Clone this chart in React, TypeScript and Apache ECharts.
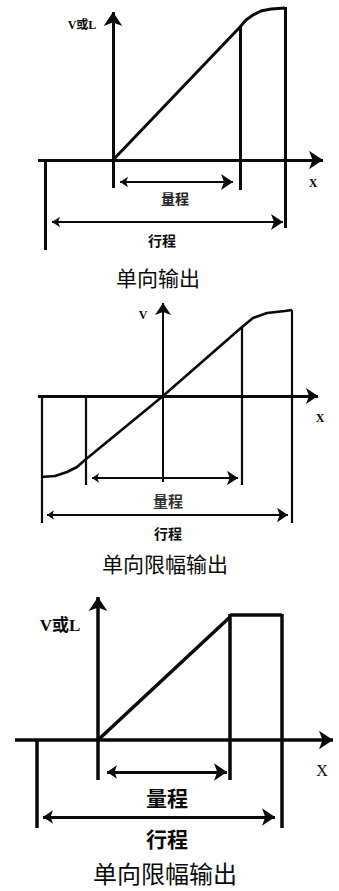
import React, { useEffect, useRef } from "react";
import * as echarts from "echarts";

// ---- Data (diagram units, origin = axis intersection, y up) ----
// Panel 1: 单向输出
const p1Axes = [
  [[-75, 0], [210, 0]],
  [[0, -28], [0, 148]],
];
const p1Curve = [[0, 0], [127, 133], [133, 140], [140, 145], [148, 149], [158, 151], [172, 152]];
const p1Verticals = [
  [[172, 153], [172, -68]],
  [[127, 133], [127, -30]],
  [[-68, 0], [-68, -90]],
];
const p1Dims = [
  [[7, -22], [120, -22]],
  [[-61, -62], [170, -62]],
];

// Panel 2: 单向限幅输出 (bipolar)
const p2Axes = [
  [[-125, 0], [155, 0]],
  [[0, -86], [0, 93]],
];
const p2Curve = [[-122, -81], [-108, -80], [-96, -76], [-86, -71], [-78, -64], [0, 0], [79, 69], [90, 78], [104, 83], [122, 85], [129, 86]];
const p2Verticals = [
  [[129, 86], [129, -127]],
  [[79, 69], [79, -89]],
  [[-77, 0], [-77, -89]],
  [[-121, 0], [-121, -127]],
];
const p2Dims = [
  [[-71, -82], [75, -82]],
  [[-116, -119], [125, -119]],
];

// Panel 3: 单向限幅输出 (hard limit)
const p3Axes = [
  [[-83, 0], [235, 0]],
  [[0, -40], [0, 143]],
];
const p3Curve = [[0, 0], [132, 123]];
const p3Top = [[132, 125], [184, 125]];
const p3Verticals = [
  [[132, 126], [132, -40]],
  [[184, 126], [184, -88]],
  [[-61, 0], [-61, -88]],
];
const p3Dims = [
  [[9, -32], [129, -32]],
  [[-55, -77], [177, -77]],
];

const labelRange = "量程";
const labelStroke = "行程";
const titles = ["单向输出", "单向限幅输出", "单向限幅输出"];
const yLabels = ["V或L", "V", "V或L"];
const xLabel = "X";

const W = 339;
const H = 891;
const INK = "#0a0a0a";

// panel layout: grid band [top, height] and origin in page pixels
const panels = [
  { top: 0, height: 300, ox: 113, oy: 160 },
  { top: 300, height: 290, ox: 163, oy: 396 },
  { top: 590, height: 301, ox: 98, oy: 740 },
];

export default function App() {
  const ref = useRef<HTMLDivElement>(null);
  useEffect(() => {
    if (!ref.current) return;
    const chart = echarts.init(ref.current, null, { renderer: "svg" });

    const grids = panels.map((p) => ({ left: 0, top: p.top, width: W, height: p.height }));
    const xAxes = panels.map((p, i) => ({
      type: "value", gridIndex: i, min: -p.ox, max: W - p.ox, show: false,
    }));
    const yAxes = panels.map((p, i) => ({
      type: "value", gridIndex: i, min: -(p.top + p.height - p.oy), max: p.oy - p.top, show: false,
    }));

    const linesSeries = (idx: number, segs: number[][][], width: number, symbol: any, size: any = [9, 12], polyline = false) => ({
      type: "lines",
      coordinateSystem: "cartesian2d",
      xAxisIndex: idx,
      yAxisIndex: idx,
      polyline,
      silent: true,
      symbol,
      symbolSize: size,
      lineStyle: { color: INK, width, opacity: 1, curveness: 0, cap: "butt", join: "round" },
      itemStyle: { color: INK },
      data: segs.map((c) => ({ coords: c })),
      clip: false,
    });

    const series: any[] = [
      // Panel 1
      linesSeries(0, p1Axes.slice(0, 1), 3.2, ["none", "arrow"], [9, 14]),
      linesSeries(0, p1Axes.slice(1), 3, ["none", "arrow"], [8, 14]),
      linesSeries(0, [p1Curve], 3, "none", 0, true),
      linesSeries(0, p1Verticals, 3, "none", 0),
      linesSeries(0, p1Dims, 2.2, ["arrow", "arrow"], [8, 12]),
      // Panel 2
      linesSeries(1, p2Axes.slice(0, 1), 3, ["none", "arrow"], [8, 12]),
      linesSeries(1, p2Axes.slice(1), 2, ["none", "arrow"], [7, 12]),
      linesSeries(1, [p2Curve], 2.6, "none", 0, true),
      linesSeries(1, p2Verticals, 2.2, "none", 0),
      linesSeries(1, p2Dims, 2.2, ["arrow", "arrow"], [7, 11]),
      // Panel 3
      linesSeries(2, p3Axes.slice(0, 1), 3.5, ["none", "arrow"], [10, 14]),
      linesSeries(2, p3Axes.slice(1), 3.5, ["none", "arrow"], [10, 14]),
      linesSeries(2, [p3Curve], 3.5, "none", 0, true),
      linesSeries(2, [p3Top], 3.5, "none", 0),
      linesSeries(2, p3Verticals, 3.5, "none", 0),
      linesSeries(2, p3Dims, 3, ["arrow", "arrow"], [10, 13]),
    ];

    const serif = "'Liberation Serif', 'DejaVu Serif', 'Noto Sans CJK SC', serif";
    const cjk = "'Noto Sans CJK SC', sans-serif";
    const txt = (text: string, x: number, y: number, size: number, weight: any, family: string, color = INK) => ({
      type: "text",
      x,
      y,
      silent: true,
      style: {
        text,
        fontSize: size,
        fontWeight: weight,
        fontFamily: family,
        fill: color,
        textAlign: "center",
        textVerticalAlign: "middle",
      },
    });

    const graphic = [
      // Panel 1
      txt(yLabels[0], 82, 25, 12, "bold", serif),
      txt(xLabel, 313, 183, 12, "bold", serif),
      txt(labelRange, 175, 198, 14, "bold", cjk, "#222"),
      txt(labelStroke, 162, 240, 14, "bold", cjk),
      txt(titles[0], 158, 277, 21, "normal", cjk),
      // Panel 2
      txt(yLabels[1], 143, 315, 12, "bold", serif),
      txt(xLabel, 320, 418, 12, "bold", serif),
      txt(labelRange, 168, 500, 15, "bold", cjk, "#333"),
      txt(labelStroke, 168, 533, 14, "bold", cjk),
      txt(titles[1], 165, 563, 21, "normal", cjk),
      // Panel 3
      txt(yLabels[2], 60, 625, 17, "bold", serif),
      txt(xLabel, 322, 770, 16, "normal", serif),
      txt(labelRange, 167, 797, 21, "bold", cjk),
      txt(labelStroke, 167, 838, 21, "bold", cjk),
      txt(titles[2], 165, 872, 24, "normal", cjk),
    ];

    chart.setOption({
      animation: false,
      backgroundColor: "#ffffff",
      grid: grids,
      xAxis: xAxes,
      yAxis: yAxes,
      series,
      graphic,
    });
    return () => chart.dispose();
  }, []);
  return <div ref={ref} style={{ position: "absolute", left: 0, top: 0, width: W, height: H }} />;
}
